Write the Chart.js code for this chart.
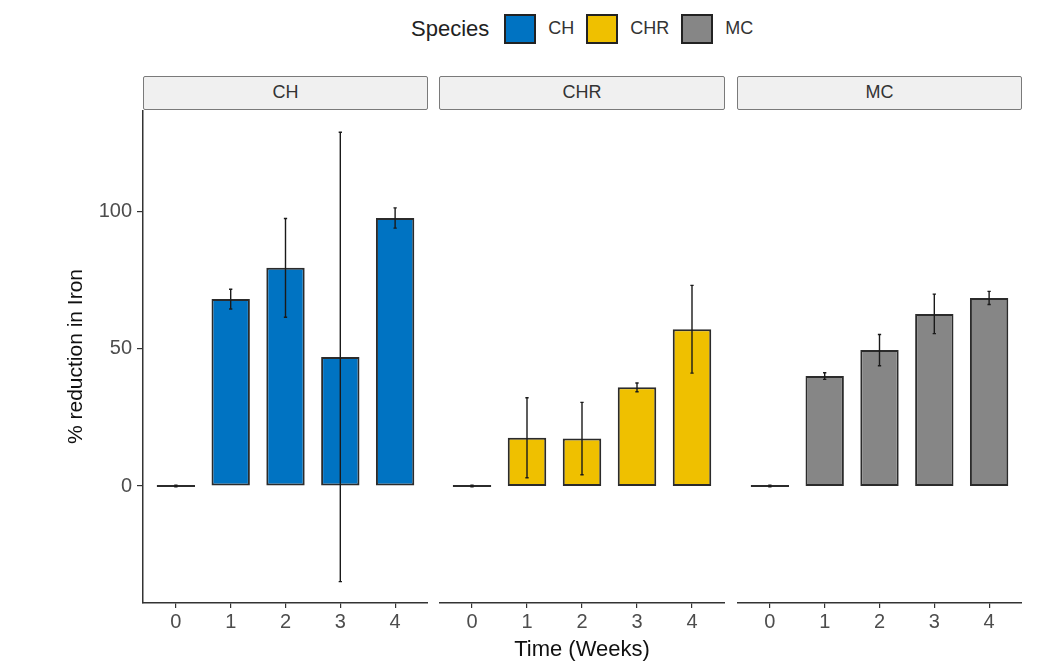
<!DOCTYPE html>
<html>
<head>
<meta charset="utf-8">
<title>% reduction in Iron</title>
<script src="https://cdn.jsdelivr.net/npm/chart.js@4.4.1/dist/chart.umd.min.js"></script>
<style>
  body { margin: 0; background: #fff; font-family: "Liberation Sans", Arial, sans-serif; }
  #wrap { position: relative; width: 1037px; height: 672px; overflow: hidden; }
  canvas { position: absolute; }
  .strip {
    position: absolute; top: 76px; height: 34px; box-sizing: border-box;
    background: #f0f0f0; border: 1.5px solid #7a7a7a; border-radius: 2px;
    color: #333; font-size: 18px; line-height: 31px; text-align: center;
  }
  #legend { position: absolute; top: 13px; left: 411px; display: flex; align-items: center; height: 31px; color: #222; }
  #legend .ttl { font-size: 22px; margin-right: 15px; }
  #legend .box { width: 32px; height: 30px; box-sizing: border-box; border: 2px solid #222; margin-right: 12px; }
  #legend .lab { font-size: 18px; margin-right: 12px; color: #333; }
</style>
</head>
<body>
<div id="wrap">
  <div id="legend"><span class="ttl">Species</span></div>
</div>
<script>
// values
var times = [0, 1, 2, 3, 4];
var species = ["CH", "CHR", "MC"];
var colors = ["#0073C2", "#EFC000", "#868686"];

var chMean  = [0, 68.2, 79.6, 47.1, 97.8];
var chErr   = [0.3, 3.6, 18.0, 82.0, 3.7];
var chrMean = [0, 17.6, 17.3, 36.0, 57.2];
var chrErr  = [0.3, 14.6, 13.2, 1.6, 16.0];
var mcMean  = [0, 40.1, 49.6, 62.8, 68.6];
var mcErr   = [0.3, 1.2, 5.7, 7.2, 2.4];

var yTicks = [0, 50, 100];

var means = [chMean, chrMean, mcMean];
var errs = [chErr, chrErr, mcErr];

// panel placement on the page
var panels = [
  { left: 60,  width: 368, stripLeft: 143, stripWidth: 285 },
  { left: 439, width: 286, stripLeft: 439, stripWidth: 286 },
  { left: 737, width: 285, stripLeft: 737, stripWidth: 285 }
];
var panelTop = 110;
var plotHeight = 493;
var canvasHeight = 557;

// error bars on top of the bars
var errorBars = {
  id: "errorBars",
  afterDatasetsDraw: function (chart) {
    var ctx = chart.ctx;
    var xs = chart.scales.x, ys = chart.scales.y;
    chart.data.datasets.forEach(function (ds) {
      ds.data.forEach(function (p, i) {
        var e = ds.errors[i];
        var x = xs.getPixelForValue(p.x);
        var cap = xs.getPixelForValue(p.x + 0.03) - x;
        var y1 = ys.getPixelForValue(p.y + e);
        var y2 = ys.getPixelForValue(p.y - e);
        ctx.save();
        ctx.strokeStyle = "#1a1a1a";
        ctx.lineWidth = 1.4;
        ctx.beginPath();
        ctx.moveTo(x, y1); ctx.lineTo(x, y2);
        ctx.moveTo(x - cap, y1); ctx.lineTo(x + cap, y1);
        ctx.moveTo(x - cap, y2); ctx.lineTo(x + cap, y2);
        ctx.stroke();
        ctx.restore();
      });
    });
  }
};

var wrap = document.getElementById("wrap");
var legend = document.getElementById("legend");

species.forEach(function (sp, k) {
  var b = document.createElement("span");
  b.className = "box";
  b.style.background = colors[k];
  legend.appendChild(b);
  var l = document.createElement("span");
  l.className = "lab";
  l.textContent = sp;
  legend.appendChild(l);
});

function makePanel(k) {
  var pos = panels[k];

  var strip = document.createElement("div");
  strip.className = "strip";
  strip.style.left = pos.stripLeft + "px";
  strip.style.width = pos.stripWidth + "px";
  strip.textContent = species[k];
  wrap.appendChild(strip);

  var canvas = document.createElement("canvas");
  canvas.width = pos.width;
  canvas.height = canvasHeight;
  canvas.style.left = pos.left + "px";
  canvas.style.top = panelTop + "px";
  wrap.appendChild(canvas);

  var points = times.map(function (t, i) { return { x: t, y: means[k][i] }; });

  new Chart(canvas, {
    type: "bar",
    data: {
      datasets: [{
        label: species[k],
        data: points,
        errors: errs[k],
        backgroundColor: colors[k],
        borderColor: "#2b2b2b",
        borderWidth: 2,
        borderSkipped: false,
        minBarLength: 2,
        categoryPercentage: 1,
        barPercentage: 0.7
      }]
    },
    plugins: [errorBars],
    options: {
      responsive: false,
      animation: false,
      events: [],
      layout: { padding: 0 },
      plugins: { legend: { display: false }, tooltip: { enabled: false } },
      scales: {
        x: {
          type: "linear",
          offset: false,
          min: -0.6,
          max: 4.6,
          afterBuildTicks: function (s) { s.ticks = times.map(function (t) { return { value: t }; }); },
          afterFit: function (s) { s.height = canvasHeight - plotHeight; s.paddingLeft = 0; s.paddingRight = 0; },
          grid: { offset: false, drawOnChartArea: false, color: "#333", tickLength: 5, lineWidth: 1.2 },
          border: { color: "#333", width: 1.5 },
          ticks: { color: "#4d4d4d", font: { family: "Liberation Sans", size: 20 }, padding: 2 },
          title: {
            display: k === 1,
            text: "Time (Weeks)",
            color: "#111",
            font: { family: "Liberation Sans", size: 22 }
          }
        },
        y: {
          display: k === 0,
          min: -42.7,
          max: 137.2,
          afterBuildTicks: function (s) { s.ticks = yTicks.map(function (v) { return { value: v }; }); },
          afterFit: function (s) {
            if (k === 0) s.width = 83;
            s.paddingTop = 0; s.paddingBottom = 0;
          },
          grid: { drawOnChartArea: false, color: "#333", tickLength: 6, lineWidth: 1.2 },
          border: { color: "#333", width: 1.5 },
          ticks: { color: "#4d4d4d", font: { family: "Liberation Sans", size: 20 }, padding: 5 },
          title: {
            display: true,
            text: "% reduction in Iron",
            color: "#111",
            font: { family: "Liberation Sans", size: 21 }
          }
        }
      }
    }
  });
}

species.forEach(function (sp, k) { makePanel(k); });
</script>
</body>
</html>
